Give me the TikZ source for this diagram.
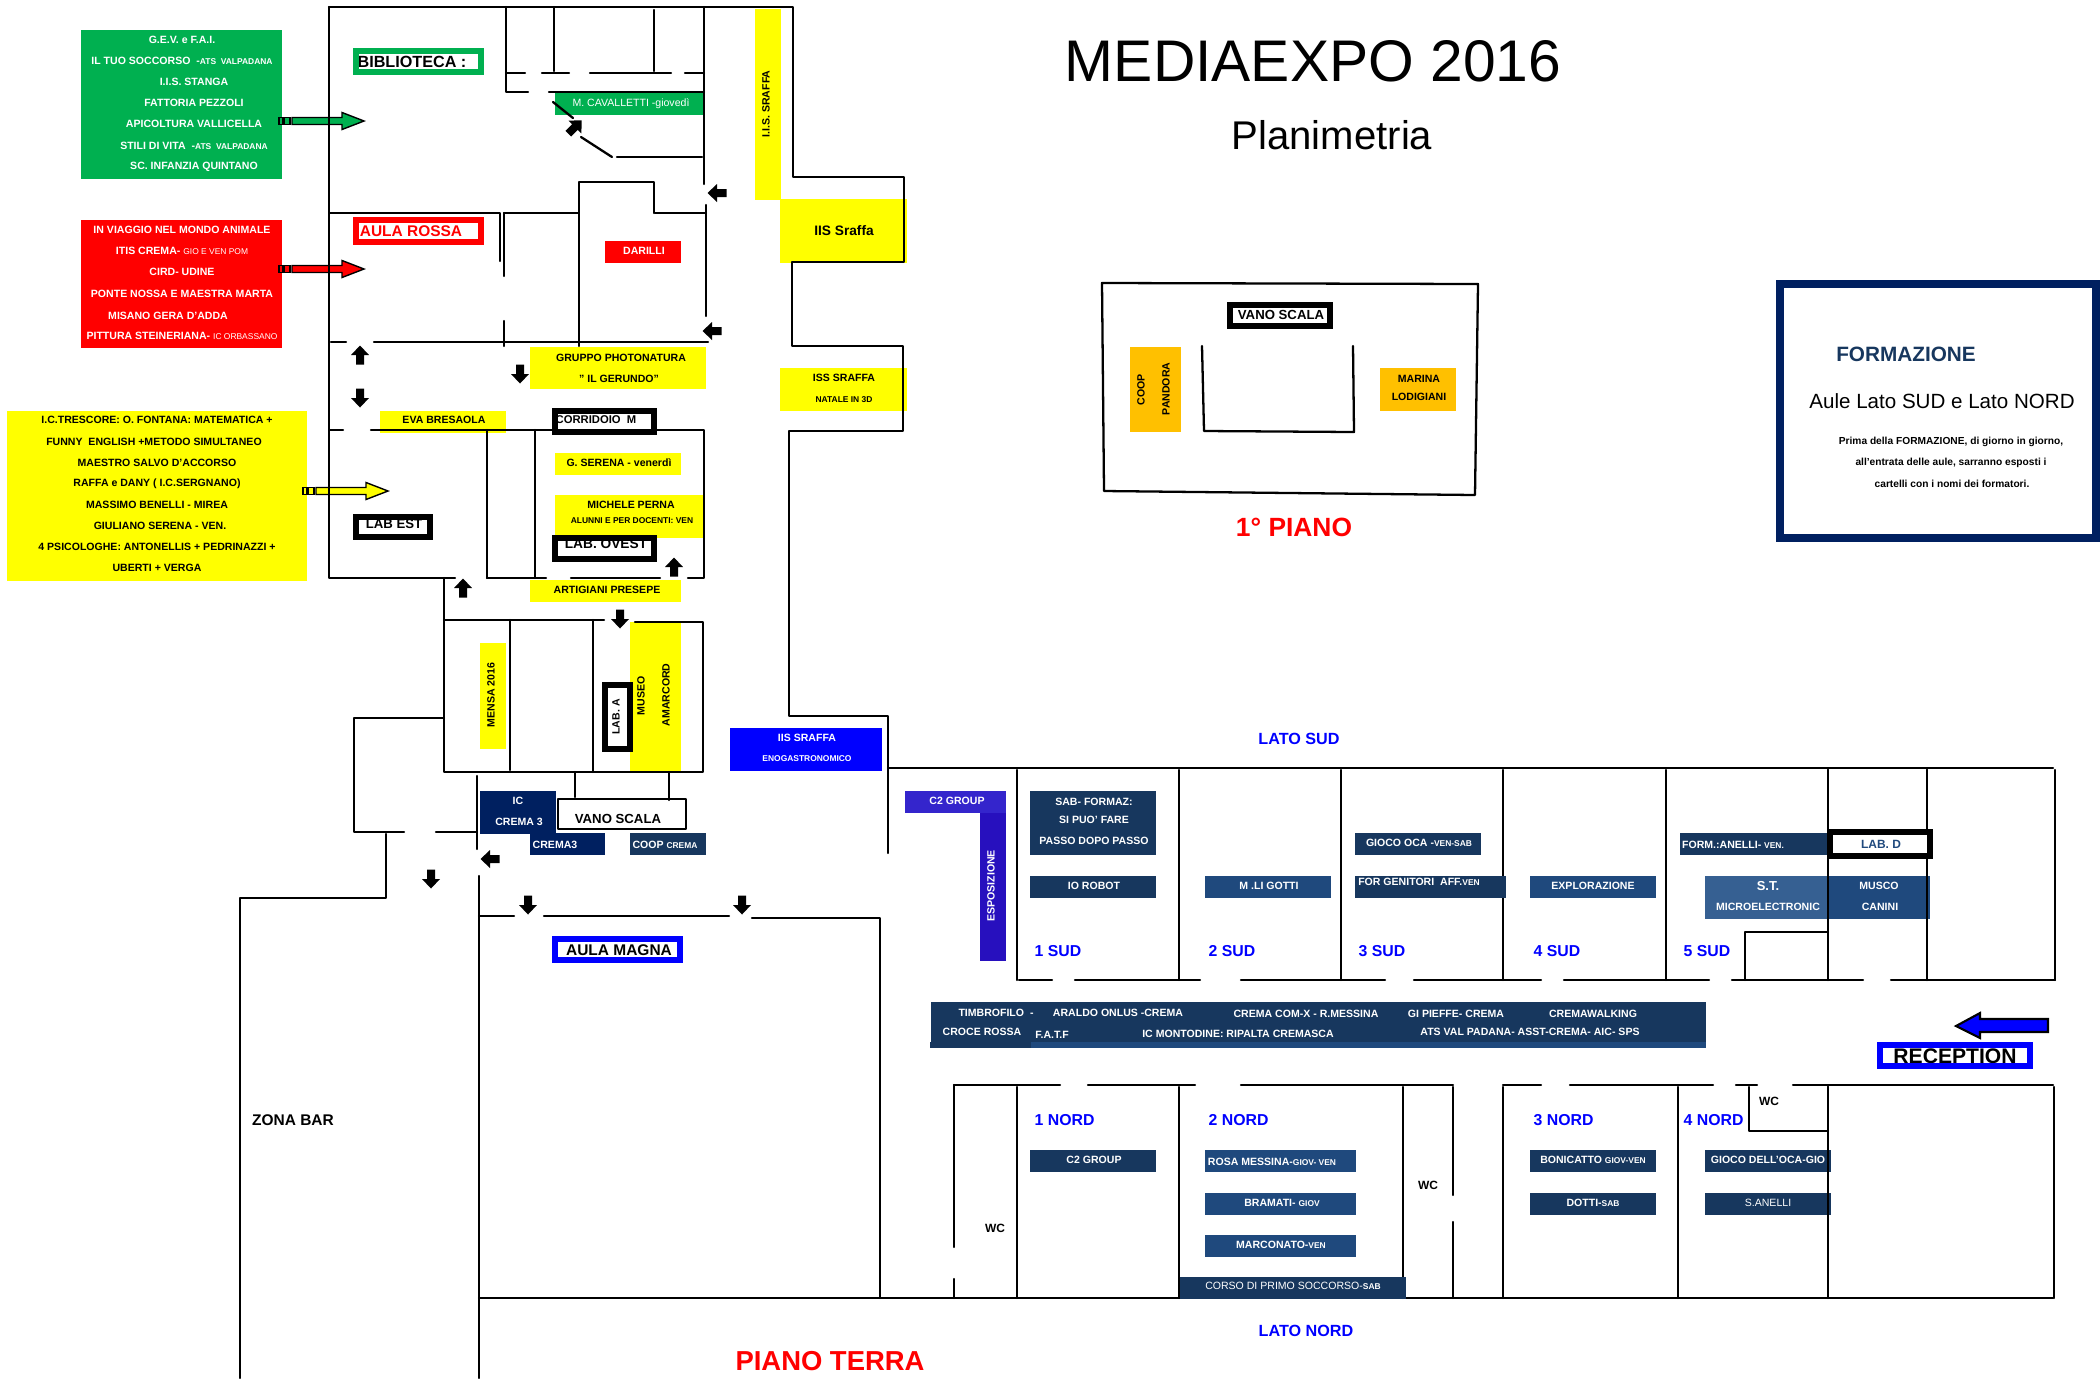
\documentclass[tikz,border=0pt]{standalone}
\usepackage{fontspec}
\setmainfont{Liberation Sans}
\definecolor{cverde}{HTML}{00B050}
\definecolor{crosso}{HTML}{FF0000}
\definecolor{cgiallo}{HTML}{FFFF00}
\definecolor{cblu}{HTML}{0000FF}
\definecolor{cnavy}{HTML}{002060}
\definecolor{cscuro}{HTML}{17375E}
\definecolor{cmedio}{HTML}{1F497D}
\definecolor{cchiaro}{HTML}{366092}
\definecolor{carancio}{HTML}{FFC000}
\definecolor{cviola}{HTML}{3425CC}
\definecolor{cviolb}{HTML}{2710BE}
\newcommand{\fsz}[1]{\fontsize{#1}{#1}\selectfont}
\newcommand{\picc}[1]{{\fsz{2.4}#1}}
\tikzset{
  wall/.style={line width=0.65pt,line cap=round,line join=round},
  lab/.style={font=\bfseries\fsz{3},inner sep=0pt,text=black,yshift=-0.25pt},
  labw/.style={lab,text=white},
  labn/.style={font=\fsz{3},inner sep=0pt,text=white,yshift=-0.25pt},
  grande/.style={font=\bfseries\fsz{#1},inner sep=0pt,text=black,yshift=-0.25pt},
  aula/.style={font=\bfseries\fsz{4.5},inner sep=0pt,text=cblu,anchor=west,yshift=-0.25pt},
  nera/.pic={\fill[black] (0,-9.5) -- (9,0) -- (4,0) -- (4,9.5) -- (-4,9.5) -- (-4,0) -- (-9,0) -- cycle;},
  freccia/.pic={
    \draw[line width=0.4pt,fill=#1] (0,-3.5) rectangle (4,3.5);
    \draw[line width=0.4pt,fill=#1] (5.5,-3.5) rectangle (11,3.5);
    \draw[line width=0.4pt,fill=#1] (13,-3.5) -- (63,-3.5) -- (63,-8.5) -- (85,0) -- (63,8.5) -- (63,3.5) -- (13,3.5) -- cycle;
  }
}
\begin{document}
\begin{tikzpicture}[x=0.01cm,y=-0.01cm]
\useasboundingbox (0,0) rectangle (2100,1378);
% pannelli colorati
\fill[cverde] (81,30) rectangle (282,179);
\fill[crosso] (81,220) rectangle (282,348);
\fill[cgiallo] (7,411) rectangle (307,581);
\foreach \tx/\ty/\tt [count=\i] in {182/39/{G.E.V. e F.A.I.},182/60/{IL TUO SOCCORSO \ -\picc{ATS \ VALPADANA}},194/81/{I.I.S. STANGA},194/102/{FATTORIA PEZZOLI},194/123/{APICOLTURA VALLICELLA},194/145/{STILI DI VITA \ -\picc{ATS \ VALPADANA}},194/166/{SC. INFANZIA QUINTANO}}
  \node[labw] (verde\i) at (\tx,\ty) {\tt};
\foreach \tx/\ty/\tt [count=\i] in {182/229/{IN VIAGGIO NEL MONDO ANIMALE},182/250/{ITIS CREMA- \picc{\mdseries GIO E VEN POM}},182/271/{CIRD- UDINE},182/293/{PONTE NOSSA E MAESTRA MARTA},168/315/{MISANO GERA D'ADDA},182/335/{PITTURA STEINERIANA- \picc{\mdseries IC ORBASSANO}}}
  \node[labw] (rosso\i) at (\tx,\ty) {\tt};
\foreach \tx/\ty/\tt [count=\i] in {157/419/{I.C.TRESCORE: O. FONTANA: MATEMATICA +},154/441/{FUNNY \ ENGLISH +METODO SIMULTANEO},157/462/{MAESTRO SALVO D'ACCORSO},157/483/{RAFFA e DANY ( I.C.SERGNANO)},157/504/{MASSIMO BENELLI - MIREA},160/525/{GIULIANO SERENA - VEN.},157/546/{4 PSICOLOGHE: ANTONELLIS + PEDRINAZZI +},157/567/{UBERTI + VERGA}}
  \node[lab] (giallo\i) at (\tx,\ty) {\tt};
\pic at (279,121) {freccia=cverde};
\pic at (279,269) {freccia=crosso};
\pic at (303,491) {freccia=cgiallo};
% macchie sotto i muri
\fill[cverde] (555,92) rectangle (705,115);
\fill[crosso] (605,241) rectangle (681,263);
\fill[cgiallo] (755,9) rectangle (781,200);
\fill[cgiallo] (780,199) rectangle (907,263);
\fill[cgiallo] (780,368) rectangle (907,411);
\fill[cgiallo] (530,347) rectangle (706,389);
\fill[cgiallo] (380,411) rectangle (506,433);
\fill[cgiallo] (555,453) rectangle (681,475);
\fill[cgiallo] (555,495) rectangle (705,538);
\fill[cgiallo] (530,580) rectangle (681,602);
\fill[cgiallo] (480,643) rectangle (506,749);
\fill[cgiallo] (630,622) rectangle (681,771);
\fill[cblu] (730,728) rectangle (882,771);
\fill[cviola] (905,791) rectangle (1006,813);
\fill[cviolb] (980,813) rectangle (1006,961);
\fill[cnavy] (480,791) rectangle (556,834);
\fill[cnavy] (530,833) rectangle (605,855);
\fill[cscuro] (630,833) rectangle (706,855);
% muri blocco ovest
\draw[wall] (329,7) -- (793,7) -- (793,177) -- (904,177) -- (904,262) -- (792,262) -- (792,346) -- (903,346) -- (903,431) -- (789,431) -- (789,716) -- (888,716) -- (888,853);
\draw[wall] (329,7) -- (329,578) -- (455,578);
\draw[wall] (487,578) -- (546,578);
\draw[wall] (571,578) -- (660,578);
\draw[wall] (688,578) -- (704,578) -- (704,430) -- (371,430);
\draw[wall] (343,430) -- (330,430);
\draw[wall] (704,7) -- (704,184);
\draw[wall] (706,205) -- (706,316);
\draw[wall] (506,7) -- (506,92) -- (528,92);
\draw[wall] (549,92) -- (704,92);
\draw[wall] (554,7) -- (554,71);
\draw[wall] (654,10) -- (654,71);
\foreach \da/\db in {506/525,542/569,590/671,685/704}
  \draw[wall] (\da,73) -- (\db,73);
\draw[wall] (553,102) -- (573,118);
\draw[wall] (581,137) -- (612,157);
\draw[wall] (617,157) -- (702,157);
\draw[wall] (330,213) -- (500,213) -- (500,261);
\draw[wall] (504,213) -- (578,213);
\draw[wall] (655,213) -- (706,213);
\draw[wall] (504,213) -- (504,276);
\draw[wall] (504,321) -- (504,346);
\draw[wall] (579,346) -- (579,182) -- (654,182) -- (654,213);
\draw[wall] (331,342) -- (346,342);
\draw[wall] (374,342) -- (708,342);
\draw[wall] (487,430) -- (487,578);
\draw[wall] (535,430) -- (535,578);
% muri blocco centrale
\draw[wall] (604,620) -- (444,620);
\draw[wall] (444,578) -- (444,772) -- (703,772) -- (703,622) -- (635,622);
\draw[wall] (510,620) -- (510,770);
\draw[wall] (593,620) -- (593,772);
\draw[wall] (477,776) -- (477,849);
\draw[wall] (444,718) -- (354,718) -- (354,832) -- (404,832);
\draw[wall] (436,832) -- (477,832);
\draw[wall] (240,1378) -- (240,898) -- (386,898) -- (386,834);
\draw[wall] (479,1378) -- (479,876);
\draw[wall] (479,916) -- (514,916);
\draw[wall] (544,916) -- (729,916);
\draw[wall] (752,918) -- (880,918) -- (880,1298);
\draw[wall] (575,772) -- (575,797);
\draw[wall] (669,772) -- (669,800);
\draw[wall] (558,799) -- (686,799) -- (686,829) -- (558,829) -- cycle;
% ala sud
\draw[wall] (888,768) -- (2053,768);
\draw[wall] (2055,770) -- (2055,980);
\foreach \vx in {1017,1179,1341,1503,1666,1828,1927}
  \draw[wall] (\vx,770) -- (\vx,980);
\foreach \da/\db in {1019/1052,1075/1200,1241/1385,1414/1541,1564/1709,1732/1863,1891/2055}
  \draw[wall] (\da,980) -- (\db,980);
\draw[wall] (1745,980) -- (1745,932) -- (1828,932);
% ala nord
\foreach \da/\db in {954/1060,1088/1195,1241/1453,1503/1541,1570/1713,1736/1757,1793/2053}
  \draw[wall] (\da,1085) -- (\db,1085);
\draw[wall] (479,1298) -- (2053,1298);
\draw[wall] (954,1085) -- (954,1247);
\draw[wall] (954,1279) -- (954,1298);
\draw[wall] (1453,1087) -- (1453,1195);
\draw[wall] (1453,1222) -- (1453,1298);
\foreach \vx in {1017,1179,1403,1503,1678,1828,2054}
  \draw[wall] (\vx,1087) -- (\vx,1298);
\draw[wall] (1749,1087) -- (1749,1131) -- (1828,1131);
% primo piano
\fill[carancio] (1130,347) rectangle (1181,432);
\fill[carancio] (1380,368) rectangle (1456,411);
\draw[wall] (1102,283) -- (1478,284) -- (1475,495) -- (1104,491) -- cycle;
\draw[wall] (1202,346) -- (1204,431) -- (1354,432) -- (1353,346);
% frecce nere
\foreach \fx/\fy/\fa in {717/193/90,712/331/90,360/355/0,360/398/180,520/374/180,674/567/0,463/588/0,620/619/180,490/859/90,431/879/180,528/905/180,742/905/180,575/127/-45}
  \pic[rotate=\fa] at (\fx,\fy) {nera};
% riquadri con bordo
\fill[white] (353,48) rectangle (484,75);
\fill[white] (353,217) rectangle (484,245);
\fill[white] (552,408) rectangle (657,435);
\fill[white] (552,535) rectangle (657,562);
\fill[white] (353,514) rectangle (433,540);
\fill[white] (602,682) rectangle (633,752);
\fill[white] (552,936) rectangle (683,963);
\fill[white] (1227,302) rectangle (1333,329);
\fill[white] (1877,1042) rectangle (2033,1069);
% etichette
\node[grande=4.6] (biblio) at (412,61) {BIBLIOTECA :};
\node[grande=4.4,text=crosso] (rossa) at (411,230) {AULA ROSSA};
\node[labn] (cavalletti) at (631,103) {M. CAVALLETTI -giovedì};
\node[labw] (darilli) at (644,250) {DARILLI};
\node[lab,rotate=90] (iis1) at (766,103) {I.I.S. SRAFFA};
\node[grande=3.9] (iis2) at (844,230) {IIS Sraffa};
\node[lab] (iss3) at (844,377) {ISS SRAFFA};
\node[lab,font=\bfseries\fsz{2.4}] (natale) at (844,399) {NATALE IN 3D};
\node[lab] (gruppo) at (621,357) {GRUPPO PHOTONATURA};
\node[lab] (gerundo) at (619,378) {" IL GERUNDO"};
\node[lab] (eva) at (444,419) {EVA BRESAOLA};
\node[lab,font=\bfseries\fsz{3.2}] (corridoio) at (596,419) {CORRIDOIO \ M};
\node[lab] (gserena) at (619,462) {G. SERENA - venerdì};
\node[lab] (michele) at (631,504) {MICHELE PERNA};
\node[lab,font=\bfseries\fsz{2.4}] (alunni) at (632,520) {ALUNNI E PER DOCENTI: VEN};
\node[grande=3.9] (labovest) at (606,543) {LAB. OVEST};
\node[grande=3.75] (labest) at (394,523) {LAB EST};
\node[lab] (artigiani) at (607,589) {ARTIGIANI PRESEPE};
\node[lab,rotate=90] (mensa) at (491,694) {MENSA 2016};
\node[lab,rotate=90] (museo) at (641,695) {MUSEO};
\node[lab,rotate=90] (amarcord) at (666,694) {AMARCORD};
\node[lab,rotate=90] (laba) at (616,716) {LAB. A};
\node[labw] (iis4) at (807,737) {IIS SRAFFA};
\node[labw,font=\bfseries\fsz{2.4}] (eno) at (807,758) {ENOGASTRONOMICO};
\node[labw] (ic) at (518,800) {IC};
\node[labw] (crema3a) at (519,821) {CREMA 3};
\node[labw] (crema3b) at (555,844) {CREMA3};
\node[labw] (coop) at (665,844) {COOP \picc{CREMA}};
\node[grande=3.75] (vano) at (618,818) {VANO SCALA};
\node[grande=4.4] (magna) at (619,949) {AULA MAGNA};
\node[grande=4.4] (bar) at (293,1119) {ZONA BAR};
\node[grande=7.8,text=crosso] (terra) at (830,1360) {PIANO TERRA};
\node[font=\fsz{16.7},inner sep=0pt,yshift=-0.25pt] (titolo) at (1313,60) {MEDIAEXPO 2016};
\node[font=\fsz{11.4},inner sep=0pt,yshift=-0.25pt] (sotto) at (1332,134) {Planimetria};
\node[aula,anchor=center,font=\bfseries\fsz{4.6}] (latosud) at (1299,738) {LATO SUD};
\node[aula,anchor=center,font=\bfseries\fsz{4.6}] (latonord) at (1306,1330) {LATO NORD};
% primo piano testi
\node[grande=3.75] (vano1) at (1281,314) {VANO SCALA};
\node[lab,rotate=90] (coop1) at (1141,389) {COOP};
\node[lab,rotate=90] (pandora) at (1166,388) {PANDORA};
\node[lab] (marina) at (1419,378) {MARINA};
\node[lab] (lodigiani) at (1419,396) {LODIGIANI};
\node[grande=7.5,text=crosso] (piano1) at (1294,527) {1° PIANO};
% formazione
\draw[cnavy,line width=2.3pt] (1780,284) rectangle (2096,538);
\node[grande=5.9,text=cscuro] (form) at (1906,353) {FORMAZIONE};
\node[font=\fsz{5.85},inner sep=0pt,yshift=-0.25pt] (aule) at (1942,400) {Aule Lato SUD e Lato NORD};
\node[grande=2.9] (prima) at (1951,441) {Prima della FORMAZIONE, di giorno in giorno,};
\node[grande=2.9] (entrata) at (1951,462) {all'entrata delle aule, sarranno esposti i};
\node[grande=2.9] (cartelli) at (1952,483) {cartelli con i nomi dei formatori.};
% ala sud etichette
\foreach \bxa/\bya/\bxb/\byb/\bc in {1030/791/1156/855/cscuro,1030/876/1156/898/cscuro,1205/876/1331/898/cmedio,1355/833/1481/855/cscuro,1355/876/1506/898/cscuro,1530/876/1656/898/cmedio,1680/833/1828/855/cscuro,1705/876/1828/919/cchiaro,1828/876/1930/919/cmedio,931/1002/1706/1042/cscuro,930/1042/1031/1048/cscuro,1031/1042/1706/1048/cmedio,1030/1150/1156/1172/cscuro,1205/1150/1356/1172/cmedio,1205/1193/1356/1215/cmedio,1205/1235/1356/1257/cmedio,1180/1277/1406/1299/cscuro,1530/1150/1656/1172/cscuro,1530/1193/1656/1215/cscuro,1705/1150/1831/1172/cscuro,1705/1193/1831/1215/cscuro}
  \fill[\bc] (\bxa,\bya) rectangle (\bxb,\byb);
\draw[wall] (1828,770) -- (1828,980);
\draw[wall] (1927,770) -- (1927,980);
\draw[wall] (1828,1087) -- (1828,1297);
\fill[white] (1828,830) rectangle (1932,858);
\node[labw] (c2a) at (957,800) {C2 GROUP};
\node[labw,rotate=90] (espo) at (991,885) {ESPOSIZIONE};
\foreach \tx/\ty/\tt [count=\i] in {1094/801/{SAB- FORMAZ:},1094/819/{SI PUO' FARE},1094/840/{PASSO DOPO PASSO},1094/885/{IO ROBOT},1269/885/{M .LI GOTTI},1419/842/{GIOCO OCA -\picc{VEN-SAB}},1419/881/{FOR GENITORI \ AFF.\picc{VEN}},1593/885/{EXPLORAZIONE},1733/844/{FORM.:ANELLI- \picc{VEN.}},1768/906/{MICROELECTRONIC},1879/885/{MUSCO},1880/906/{CANINI}}
  \node[labw] (sud\i) at (\tx,\ty) {\tt};
\node[labw,font=\bfseries\fsz{3.7}] (st) at (1768,885) {S.T.};
\foreach \tx/\ty/\tt [count=\i] in {996/1012/{TIMBROFILO \ -},1118/1012/{ARALDO ONLUS -CREMA},1306/1013/{CREMA COM-X - R.MESSINA},1456/1013/{GI PIEFFE- CREMA},1593/1013/{CREMAWALKING},982/1031/{CROCE ROSSA},1052/1034/{F.A.T.F},1238/1033/{IC MONTODINE: RIPALTA CREMASCA},1530/1031/{ATS VAL PADANA- ASST-CREMA- AIC- SPS}}
  \node[labw] (banda\i) at (\tx,\ty) {\tt};
\foreach \tx/\ty/\tt [count=\i] in {1094/1159/{C2 GROUP},1272/1161/{ROSA MESSINA-\picc{GIOV- VEN}},1282/1202/{BRAMATI- \picc{GIOV}},1281/1244/{MARCONATO-\picc{VEN}},1593/1159/{BONICATTO \picc{GIOV-VEN}},1593/1202/{DOTTI-\picc{SAB}},1768/1159/{GIOCO DELL'OCA-GIO}}
  \node[labw] (nord\i) at (\tx,\ty) {\tt};
\node[labn] (corso) at (1293,1285) {CORSO DI PRIMO SOCCORSO-\picc{\bfseries SAB}};
\node[labn] (anelli) at (1768,1202) {S.ANELLI};
\foreach \tx/\ty/\tt [count=\i] in {995/1227/WC,1428/1184/WC,1769/1100/WC}
  \node[lab,font=\bfseries\fsz{3.4}] (wc\i) at (\tx,\ty) {\tt};
\foreach \tx/\tt in {1034/1 SUD,1208/2 SUD,1358/3 SUD,1533/4 SUD,1683/5 SUD}
  \node[aula] at (\tx,950) (\tt) {\tt};
\foreach \tx/\tt in {1034/1 NORD,1208/2 NORD,1533/3 NORD,1683/4 NORD}
  \node[aula] at (\tx,1119) (\tt) {\tt};
\node[lab,text=cmedio,font=\bfseries\fsz{3.4}] (labd) at (1881,843) {LAB. D};
\node[grande=6] (reception) at (1955,1055) {RECEPTION};
\draw[line width=0.6pt,fill=cblu] (1956,1026) -- (1980,1013) -- (1980,1019) -- (2048,1019) -- (2048,1032) -- (1980,1032) -- (1980,1038) -- cycle;
% bordi
\foreach \bxa/\bya/\bxb/\byb/\bc/\bw in {356/51/481/72/cverde/1.7,356/220/481/242/crosso/1.7,555/411/654/432/black/1.7,555/538/654/559/black/1.7,356/517/430/537/black/1.7,605/685/630/749/black/1.7,555/939/680/960/cblu/1.7,1230/305/1330/326/black/1.7,1880/1045/2030/1066/cblu/1.7,1830/832/1930/856/black/1.7}
  \draw[\bc,line width=\bw pt] (\bxa,\bya) rectangle (\bxb,\byb);
\end{tikzpicture}
\end{document}
